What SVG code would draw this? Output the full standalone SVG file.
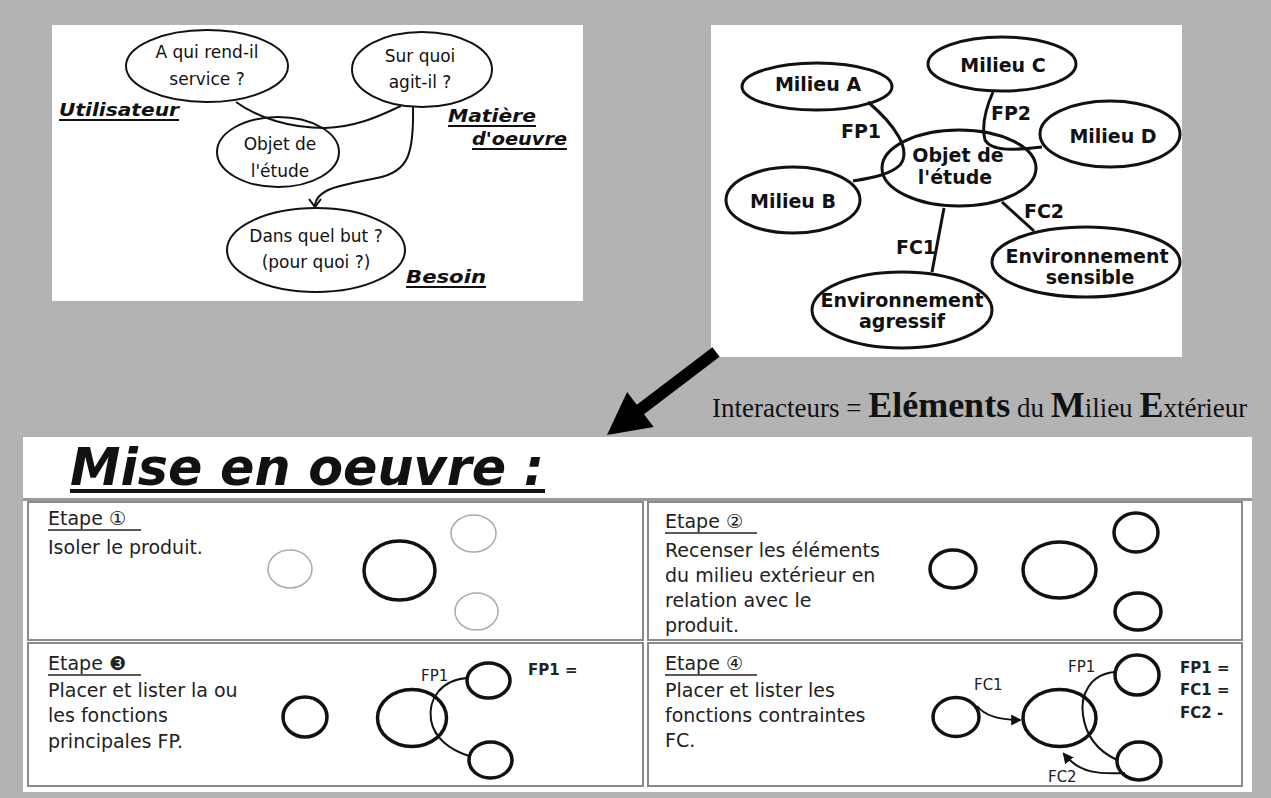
<svg xmlns="http://www.w3.org/2000/svg" width="1271" height="798" viewBox="0 0 1271 798">
<defs>
<marker id="ah" viewBox="0 0 10 10" refX="8" refY="5" markerWidth="5.5" markerHeight="5.5" orient="auto" markerUnits="strokeWidth">
<path d="M0,0 L10,5 L0,10 z" fill="#111"/>
</marker>
</defs>
<style>
.panel{fill:#fff}
.e1{fill:none;stroke:#111;stroke-width:2}
.tl{font-family:"DejaVu Sans",sans-serif;font-size:17px;fill:#111;text-anchor:middle}
.tlb{font-family:"DejaVu Sans",sans-serif;font-size:17px;font-weight:bold;font-style:italic;fill:#111}
.tr{font-family:"DejaVu Sans",sans-serif;font-size:19px;font-weight:bold;fill:#111;text-anchor:middle}
.e2{fill:none;stroke:#111;stroke-width:3}
.ln{fill:none;stroke:#111;stroke-width:3}
.ln1{fill:none;stroke:#111;stroke-width:2}
.cell{fill:#fff;stroke:#8a8a8a;stroke-width:2}
.bt{font-family:"DejaVu Sans",sans-serif;font-size:19px;fill:#222}
.sm{font-family:"DejaVu Sans",sans-serif;font-size:15px;fill:#222}
.smb{font-family:"DejaVu Sans",sans-serif;font-size:15px;font-weight:bold;fill:#222}
.c{fill:none;stroke:#111;stroke-width:3.5}
.cg{fill:none;stroke:#aaa;stroke-width:1.5}
.ul{stroke:#222;stroke-width:1.5}
</style>
<rect x="0" y="0" width="1271" height="798" fill="#b3b3b3"/>

<!-- top-left panel -->
<g id="panel-questions">
<rect class="panel" x="52" y="25" width="531" height="276"/>
<g id="connectors-tl">
<path class="ln1" d="M236,102 C258,118 290,128 325,128 C360,127 385,113 401,106"/>
<path class="ln1" d="M413,107 C414,155 408,172 377,178 C335,186 316,190 315,206"/>
<path class="ln1" d="M309,199 L315,207 L321,199"/>
</g>
<g id="n-aqui"><ellipse class="e1" cx="207" cy="66" rx="81" ry="36"/>
<text class="tl" x="207" y="58">A qui rend-il</text><text class="tl" x="207" y="85">service ?</text></g>
<g id="n-surquoi"><ellipse class="e1" cx="422" cy="69.5" rx="70" ry="37.5"/>
<text class="tl" x="420" y="62">Sur quoi</text><text class="tl" x="420" y="88">agit-il ?</text></g>
<g id="n-objet1"><ellipse class="e1" cx="278" cy="152" rx="61" ry="35"/>
<text class="tl" x="280" y="150">Objet de</text><text class="tl" x="280" y="177">l'étude</text></g>
<g id="n-dans"><ellipse class="e1" cx="316" cy="250" rx="89" ry="42"/>
<text class="tl" x="316" y="242">Dans quel but ?</text><text class="tl" x="316" y="268">(pour quoi ?)</text></g>
<g id="l-util"><text class="tlb" x="59" y="116" textLength="120" lengthAdjust="spacingAndGlyphs">Utilisateur</text><line x1="59" y1="120" x2="179" y2="120" stroke="#111" stroke-width="2"/></g>
<g id="l-matiere"><text class="tlb" x="448" y="122" textLength="88" lengthAdjust="spacingAndGlyphs">Matière</text><line x1="448" y1="126" x2="536" y2="126" stroke="#111" stroke-width="2"/>
<text class="tlb" x="472" y="145" textLength="95" lengthAdjust="spacingAndGlyphs">d'oeuvre</text><line x1="472" y1="149" x2="567" y2="149" stroke="#111" stroke-width="2"/></g>
<g id="l-besoin"><text class="tlb" x="406" y="283" textLength="80" lengthAdjust="spacingAndGlyphs">Besoin</text><line x1="406" y1="287" x2="486" y2="287" stroke="#111" stroke-width="2"/></g>
</g>

<!-- top-right panel -->
<g id="panel-milieux">
<rect class="panel" x="711" y="25" width="471" height="332"/>
<g id="connectors-tr">
<path class="ln" d="M868,102 C895,125 912,150 900,165 C890,175 870,178 853,181"/>
<path class="ln" d="M993,92 C985,110 982,128 985,140 C992,152 1015,150 1042,147"/>
<path class="ln" d="M944,208 L932,272"/>
<path class="ln" d="M1002,202 L1034,231"/>
</g>
<g id="n-ma"><ellipse class="e2" cx="817" cy="86.5" rx="75" ry="23.5"/><text class="tr" x="818" y="91">Milieu A</text></g>
<g id="n-mc"><ellipse class="e2" cx="1002" cy="64" rx="74" ry="27"/><text class="tr" x="1003" y="72">Milieu C</text></g>
<g id="n-md"><ellipse class="e2" cx="1110" cy="134" rx="70" ry="33"/><text class="tr" x="1113" y="143">Milieu D</text></g>
<g id="n-mb"><ellipse class="e2" cx="793" cy="200" rx="67" ry="33"/><text class="tr" x="793" y="208">Milieu B</text></g>
<g id="n-objet2"><ellipse class="e2" cx="959" cy="168" rx="77" ry="38"/><text class="tr" x="958" y="162">Objet de</text><text class="tr" x="955" y="184">l'étude</text></g>
<g id="n-es"><ellipse class="e2" cx="1086" cy="262" rx="94" ry="35"/><text class="tr" x="1087" y="263">Environnement</text><text class="tr" x="1090" y="284">sensible</text></g>
<g id="n-ea"><ellipse class="e2" cx="902" cy="310" rx="90" ry="38"/><text class="tr" x="902" y="307">Environnement</text><text class="tr" x="902" y="328">agressif</text></g>
<text class="tr" x="861" y="138">FP1</text>
<text class="tr" x="1011" y="120">FP2</text>
<text class="tr" x="1044" y="218">FC2</text>
<text class="tr" x="916" y="254">FC1</text>
</g>

<!-- big arrow -->
<g id="big-arrow">
<polygon points="712.4,347.2 636.8,404.7 627.1,392 607,435 653.7,427 644,414.3 719.6,356.8" fill="#000"/>
</g>
<text id="interacteurs" x="712" y="417" font-family="'Liberation Serif',serif" font-size="27" fill="#111">Interacteurs = <tspan font-weight="bold" font-size="36">Eléments</tspan> du <tspan font-weight="bold" font-size="36">M</tspan>ilieu <tspan font-weight="bold" font-size="36">E</tspan>xtérieur</text>

<!-- bottom panel -->
<g id="panel-mise">
<rect class="panel" x="23" y="437" width="1229" height="355"/>
<text x="70" y="485" font-family="'DejaVu Sans',sans-serif" font-size="51" font-weight="bold" font-style="italic" fill="#111" textLength="474" lengthAdjust="spacingAndGlyphs">Mise en oeuvre :</text>
<rect x="70" y="489" width="475" height="4" fill="#111"/>
<line x1="23" y1="499.5" x2="1252" y2="499.5" stroke="#999" stroke-width="3"/>
<rect class="cell" x="28" y="502" width="615" height="138"/>
<rect class="cell" x="648" y="502" width="594" height="138"/>
<rect class="cell" x="28" y="643" width="615" height="143"/>
<rect class="cell" x="648" y="643" width="594" height="143"/>

<g id="etape1">
<text class="bt" x="48" y="525">Etape ①</text><line class="ul" x1="48" y1="530" x2="141" y2="530"/>
<text class="bt" x="48" y="554">Isoler le produit.</text>
<ellipse class="cg" cx="290" cy="569" rx="22" ry="19"/>
<ellipse class="c" cx="399.5" cy="570.5" rx="35.5" ry="29.5"/>
<ellipse class="cg" cx="473.5" cy="533.5" rx="22.5" ry="18.5"/>
<ellipse class="cg" cx="476.5" cy="611.5" rx="21.5" ry="18.5"/>
</g>

<g id="etape2">
<text class="bt" x="665" y="528">Etape ②</text><line class="ul" x1="665" y1="533" x2="757" y2="533"/>
<text class="bt" x="665" y="557">Recenser les éléments</text>
<text class="bt" x="665" y="582">du milieu extérieur en</text>
<text class="bt" x="665" y="607">relation avec le</text>
<text class="bt" x="665" y="632">produit.</text>
<ellipse class="c" cx="953" cy="569" rx="23" ry="19"/>
<ellipse class="c" cx="1059.5" cy="570" rx="36.5" ry="28"/>
<ellipse class="c" cx="1136" cy="532.5" rx="22" ry="19.5"/>
<ellipse class="c" cx="1138" cy="611.5" rx="23" ry="18.5"/>
</g>

<g id="etape3">
<text class="bt" x="48" y="670">Etape ❸</text><line class="ul" x1="48" y1="675" x2="141" y2="675"/>
<text class="bt" x="48" y="697">Placer et lister la ou</text>
<text class="bt" x="48" y="722">les fonctions</text>
<text class="bt" x="48" y="748">principales FP.</text>
<ellipse class="c" cx="305" cy="717" rx="22" ry="20"/>
<ellipse class="c" cx="412" cy="718" rx="34.5" ry="28.5"/>
<ellipse class="c" cx="488.5" cy="680.5" rx="21.5" ry="17.5"/>
<ellipse class="c" cx="490.5" cy="760" rx="21.5" ry="18"/>
<path class="ln1" d="M467,678 C440,680 428,700 431,720 C434,738 450,750 469,756"/>
<text class="sm" x="421" y="681">FP1</text>
<text class="smb" x="528" y="675">FP1 =</text>
</g>

<g id="etape4">
<text class="bt" x="665" y="670">Etape ④</text><line class="ul" x1="665" y1="675" x2="757" y2="675"/>
<text class="bt" x="665" y="697">Placer et lister les</text>
<text class="bt" x="665" y="722">fonctions contraintes</text>
<text class="bt" x="665" y="747">FC.</text>
<ellipse class="c" cx="956" cy="717" rx="23" ry="19.5"/>
<ellipse class="c" cx="1059.5" cy="718" rx="36.5" ry="28.5"/>
<ellipse class="c" cx="1137" cy="675" rx="22" ry="20"/>
<ellipse class="c" cx="1139" cy="761" rx="22" ry="19"/>
<path class="ln1" d="M1115,672 C1090,674 1080,695 1083,715 C1086,738 1100,752 1117,760"/>
<path class="ln1" d="M977,706 C985,716 1000,720 1020,720" marker-end="url(#ah)"/>
<path class="ln1" d="M1125,773 C1100,774 1080,774 1064,754" marker-end="url(#ah)"/>
<text class="sm" x="1068" y="672">FP1</text>
<text class="sm" x="974" y="690">FC1</text>
<text class="sm" x="1048" y="782">FC2</text>
<text class="smb" x="1180" y="673">FP1 =</text>
<text class="smb" x="1180" y="695">FC1 =</text>
<text class="smb" x="1180" y="718">FC2 -</text>
</g>
</g>
</svg>
